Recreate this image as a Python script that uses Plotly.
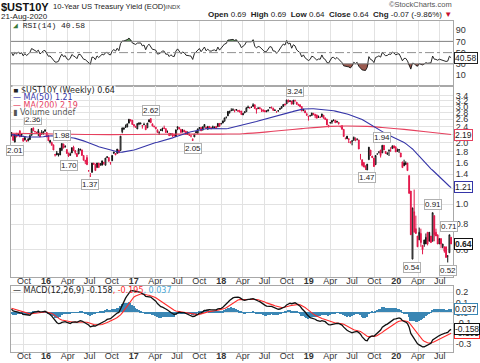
import numpy as np
import pandas as pd
import plotly.graph_objects as go

# ---------------- data (weekly) ----------------
# 52 weekly closes before the visible window (warm-up for MA/RSI/MACD)
hist_close = [2.34, 2.40, 2.35, 2.46, 2.61, 2.59, 2.54, 2.45, 2.31, 2.22, 2.29, 2.35, 2.31, 2.32, 2.31, 2.18,
              2.31, 2.10, 2.17, 2.25,
              2.11, 1.98, 1.83, 1.80, 1.68, 1.95, 2.02, 2.13, 2.00, 2.24, 2.13, 1.93, 1.95, 1.85, 1.96, 1.87,
              1.93, 2.12, 2.15, 2.14, 2.21, 2.12, 2.41, 2.39, 2.26, 2.49, 2.38, 2.40, 2.36, 2.26, 2.20, 2.17]

# (open, high, low, close) per week, first week = week of 2015-08-10
w2015 = [(2.24, 2.24, 2.14, 2.20), (2.20, 2.20, 2.05, 2.05), (2.01, 2.19, 2.01, 2.19), (2.22, 2.22, 2.13, 2.13),
         (2.19, 2.23, 2.19, 2.20), (2.28, 2.30, 2.13, 2.13), (2.20, 2.20, 2.13, 2.17), (2.10, 2.10, 2.03, 2.03),
         (2.06, 2.12, 2.05, 2.12), (2.05, 2.05, 2.02, 2.03), (2.04, 2.09, 2.03, 2.09), (2.07, 2.19, 2.06, 2.16),
         (2.17, 2.34, 2.17, 2.34), (2.36, 2.36, 2.28, 2.28), (2.27, 2.27, 2.24, 2.26), (2.25, 2.25, 2.22, 2.22),
         (2.21, 2.33, 2.15, 2.28), (2.23, 2.24, 2.13, 2.13), (2.23, 2.30, 2.20, 2.20), (2.20, 2.27, 2.20, 2.26),
         (2.31, 2.31, 2.27, 2.27)]
w2016 = [(2.24, 2.25, 2.13, 2.13), (2.17, 2.17, 2.04, 2.04), (2.01, 2.06, 1.98, 2.05), (2.00, 2.02, 1.94, 1.94),
         (1.95, 1.95, 1.84, 1.84), (1.75, 1.75, 1.71, 1.74), (1.78, 1.82, 1.74, 1.74), (1.75, 1.76, 1.71, 1.76),
         (1.74, 1.88, 1.74, 1.88), (1.83, 1.98, 1.83, 1.98), (1.97, 1.97, 1.88, 1.88), (1.92, 1.94, 1.89, 1.91),
         (1.85, 1.85, 1.77, 1.77), (1.78, 1.78, 1.70, 1.72), (1.73, 1.79, 1.73, 1.76), (1.78, 1.89, 1.78, 1.89),
         (1.90, 1.93, 1.83, 1.83), (1.83, 1.83, 1.75, 1.79), (1.77, 1.77, 1.70, 1.71), (1.76, 1.88, 1.76, 1.85),
         (1.84, 1.87, 1.83, 1.85), (1.84, 1.85, 1.73, 1.73), (1.73, 1.73, 1.64, 1.64), (1.64, 1.64, 1.57, 1.62),
         (1.69, 1.74, 1.56, 1.56), (1.46, 1.46, 1.44, 1.46), (1.37, 1.42, 1.37, 1.37), (1.43, 1.59, 1.43, 1.59),
         (1.59, 1.59, 1.56, 1.57), (1.57, 1.57, 1.46, 1.46), (1.51, 1.59, 1.51, 1.59), (1.59, 1.59, 1.51, 1.51),
         (1.55, 1.58, 1.55, 1.58), (1.55, 1.63, 1.55, 1.63), (1.58, 1.61, 1.56, 1.60), (1.55, 1.68, 1.55, 1.68),
         (1.69, 1.72, 1.69, 1.70), (1.69, 1.69, 1.62, 1.62), (1.59, 1.60, 1.56, 1.60), (1.63, 1.74, 1.63, 1.73),
         (1.77, 1.80, 1.77, 1.80), (1.77, 1.77, 1.74, 1.74), (1.77, 1.86, 1.77, 1.86), (1.84, 1.84, 1.78, 1.78),
         (1.83, 2.15, 1.83, 2.15), (2.26, 2.36, 2.22, 2.36), (2.32, 2.36, 2.32, 2.36), (2.37, 2.45, 2.37, 2.39),
         (2.38, 2.47, 2.38, 2.47), (2.49, 2.60, 2.48, 2.60), (2.59, 2.59, 2.54, 2.55), (2.57, 2.57, 2.45, 2.45)]
w2017 = [(2.45, 2.45, 2.37, 2.42), (2.38, 2.40, 2.36, 2.40), (2.33, 2.48, 2.33, 2.48), (2.46, 2.51, 2.43, 2.49),
         (2.48, 2.49, 2.45, 2.49), (2.42, 2.42, 2.34, 2.41), (2.44, 2.50, 2.44, 2.45), (2.42, 2.42, 2.31, 2.31),
         (2.36, 2.49, 2.36, 2.49), (2.52, 2.60, 2.52, 2.58), (2.62, 2.62, 2.50, 2.50), (2.47, 2.47, 2.40, 2.41),
         (2.38, 2.42, 2.38, 2.40), (2.33, 2.38, 2.33, 2.38), (2.31, 2.31, 2.24, 2.24), (2.25, 2.25, 2.18, 2.25),
         (2.32, 2.32, 2.28, 2.29), (2.33, 2.35, 2.27, 2.35), (2.36, 2.42, 2.34, 2.34), (2.34, 2.34, 2.23, 2.24),
         (2.25, 2.29, 2.25, 2.25), (2.22, 2.22, 2.16, 2.16), (2.19, 2.21, 2.16, 2.21), (2.21, 2.21, 2.13, 2.16),
         (2.19, 2.19, 2.15, 2.15), (2.14, 2.31, 2.14, 2.31), (2.35, 2.39, 2.30, 2.39), (2.37, 2.37, 2.32, 2.33),
         (2.32, 2.32, 2.24, 2.24), (2.25, 2.33, 2.25, 2.29), (2.30, 2.30, 2.24, 2.27), (2.27, 2.27, 2.19, 2.19),
         (2.22, 2.27, 2.19, 2.19), (2.18, 2.22, 2.17, 2.17), (2.15, 2.16, 2.12, 2.16), (2.07, 2.10, 2.05, 2.05),
         (2.13, 2.20, 2.13, 2.20), (2.23, 2.28, 2.23, 2.26), (2.22, 2.34, 2.22, 2.33), (2.34, 2.37, 2.32, 2.37),
         (2.37, 2.37, 2.28, 2.28), (2.30, 2.39, 2.30, 2.39), (2.38, 2.46, 2.38, 2.45), (2.38, 2.38, 2.34, 2.34),
         (2.32, 2.40, 2.32, 2.40), (2.40, 2.40, 2.33, 2.35), (2.37, 2.37, 2.32, 2.34), (2.39, 2.42, 2.37, 2.37),
         (2.37, 2.38, 2.35, 2.38), (2.40, 2.40, 2.35, 2.35), (2.39, 2.49, 2.39, 2.48), (2.48, 2.48, 2.40, 2.40)]
w2018 = [(2.46, 2.48, 2.46, 2.48), (2.49, 2.56, 2.49, 2.55), (2.54, 2.64, 2.54, 2.64), (2.66, 2.66, 2.62, 2.66),
         (2.70, 2.85, 2.70, 2.84), (2.80, 2.85, 2.77, 2.85), (2.86, 2.94, 2.86, 2.87), (2.89, 2.94, 2.87, 2.88),
         (2.86, 2.90, 2.81, 2.86), (2.88, 2.90, 2.86, 2.90), (2.87, 2.87, 2.82, 2.85), (2.85, 2.89, 2.82, 2.82),
         (2.85, 2.85, 2.74, 2.74), (2.73, 2.79, 2.73, 2.77), (2.79, 2.83, 2.79, 2.83), (2.83, 2.96, 2.83, 2.96),
         (2.98, 3.03, 2.96, 2.96), (2.96, 2.98, 2.94, 2.95), (2.97, 3.00, 2.97, 2.97), (3.00, 3.11, 3.00, 3.06),
         (3.06, 3.06, 2.93, 2.93), (2.93, 2.93, 2.77, 2.89), (2.93, 2.98, 2.93, 2.94), (2.96, 2.98, 2.91, 2.93),
         (2.92, 2.92, 2.82, 2.90), (2.89, 2.89, 2.82, 2.85), (2.87, 2.87, 2.82, 2.82), (2.86, 2.86, 2.83, 2.83),
         (2.85, 2.89, 2.85, 2.89), (2.96, 2.98, 2.94, 2.96), (2.96, 3.00, 2.95, 2.95), (2.94, 2.96, 2.87, 2.87),
         (2.89, 2.89, 2.86, 2.87), (2.82, 2.84, 2.82, 2.82), (2.85, 2.88, 2.83, 2.86), (2.90, 2.94, 2.90, 2.94),
         (2.94, 3.00, 2.94, 3.00), (3.00, 3.08, 3.00, 3.07), (3.08, 3.10, 3.05, 3.05), (3.09, 3.23, 3.09, 3.23),
         (3.23, 3.23, 3.14, 3.16), (3.17, 3.20, 3.17, 3.20), (3.19, 3.19, 3.08, 3.08), (3.08, 3.22, 3.08, 3.22),
         (3.20, 3.24, 3.19, 3.19), (3.15, 3.15, 3.06, 3.08), (3.08, 3.08, 3.04, 3.04), (3.06, 3.06, 2.99, 2.99),
         (3.00, 3.00, 2.85, 2.85), (2.86, 2.91, 2.86, 2.91), (2.86, 2.86, 2.79, 2.79), (2.75, 2.80, 2.72, 2.72)]
w2019 = [(2.69, 2.69, 2.56, 2.67), (2.70, 2.73, 2.70, 2.70), (2.71, 2.79, 2.71, 2.79), (2.78, 2.78, 2.72, 2.76),
         (2.75, 2.75, 2.63, 2.70), (2.73, 2.73, 2.63, 2.63), (2.66, 2.71, 2.66, 2.66), (2.65, 2.69, 2.65, 2.65),
         (2.67, 2.76, 2.67, 2.76), (2.72, 2.72, 2.63, 2.63), (2.64, 2.64, 2.59, 2.59), (2.60, 2.61, 2.44, 2.44),
         (2.43, 2.43, 2.37, 2.41), (2.49, 2.52, 2.49, 2.50), (2.52, 2.56, 2.47, 2.56), (2.57, 2.60, 2.56, 2.56),
         (2.57, 2.57, 2.50, 2.50), (2.52, 2.54, 2.50, 2.54), (2.51, 2.51, 2.45, 2.47), (2.40, 2.40, 2.38, 2.39),
         (2.42, 2.42, 2.32, 2.32), (2.32, 2.32, 2.14, 2.14), (2.09, 2.12, 2.08, 2.09), (2.15, 2.15, 2.08, 2.09),
         (2.09, 2.09, 1.99, 2.07), (2.02, 2.02, 1.98, 2.00), (2.03, 2.04, 1.94, 2.04), (2.05, 2.14, 2.05, 2.12),
         (2.09, 2.12, 2.03, 2.05), (2.08, 2.08, 2.05, 2.08), (2.06, 2.06, 1.86, 1.86), (1.75, 1.75, 1.65, 1.75),
         (1.65, 1.65, 1.53, 1.55), (1.60, 1.60, 1.52, 1.52), (1.54, 1.54, 1.47, 1.50), (1.47, 1.57, 1.47, 1.57),
         (1.65, 1.90, 1.65, 1.90), (1.84, 1.84, 1.72, 1.74), (1.72, 1.72, 1.68, 1.69), (1.68, 1.68, 1.52, 1.53),
         (1.56, 1.73, 1.56, 1.73), (1.76, 1.76, 1.75, 1.76), (1.80, 1.80, 1.77, 1.80), (1.84, 1.84, 1.69, 1.73),
         (1.78, 1.94, 1.78, 1.94), (1.94, 1.94, 1.84, 1.84), (1.81, 1.81, 1.77, 1.77), (1.76, 1.78, 1.74, 1.78),
         (1.83, 1.84, 1.72, 1.84), (1.82, 1.90, 1.82, 1.82), (1.87, 1.94, 1.87, 1.92), (1.93, 1.93, 1.88, 1.88)]
w2020 = [(1.90, 1.92, 1.80, 1.80), (1.81, 1.87, 1.81, 1.83), (1.85, 1.85, 1.78, 1.84), (1.78, 1.78, 1.70, 1.70),
         (1.61, 1.61, 1.51, 1.51), (1.54, 1.65, 1.54, 1.59), (1.56, 1.62, 1.56, 1.59), (1.59, 1.59, 1.46, 1.46),
         (1.38, 1.38, 1.13, 1.13), (1.16, 1.16, 0.71, 0.71), (0.54, 0.96, 0.54, 0.96), (0.73, 1.18, 0.73, 0.92),
         (0.76, 0.88, 0.72, 0.72), (0.70, 0.70, 0.62, 0.62), (0.67, 0.77, 0.67, 0.73), (0.72, 0.76, 0.62, 0.65),
         (0.63, 0.63, 0.57, 0.60), (0.67, 0.67, 0.62, 0.64), (0.64, 0.72, 0.64, 0.69), (0.73, 0.73, 0.63, 0.64),
         (0.73, 0.73, 0.66, 0.66), (0.70, 0.70, 0.65, 0.65), (0.66, 0.91, 0.66, 0.91), (0.88, 0.88, 0.66, 0.71),
         (0.73, 0.76, 0.70, 0.70), (0.71, 0.71, 0.64, 0.64), (0.64, 0.68, 0.64, 0.68), (0.68, 0.68, 0.61, 0.64),
         (0.62, 0.64, 0.61, 0.64), (0.62, 0.62, 0.58, 0.59), (0.62, 0.62, 0.55, 0.55), (0.56, 0.56, 0.52, 0.56),
         (0.58, 0.71, 0.58, 0.71), (0.69, 0.69, 0.64, 0.64)]

# MA(200) (sparse points)
ma200_dates = ['2015-08-10', '2016-01-04', '2016-07-04', '2017-01-02', '2017-07-03', '2018-01-01',
               '2018-04-02', '2018-08-06', '2018-12-03', '2019-04-01', '2019-06-03', '2019-09-02',
               '2019-11-04', '2020-02-03', '2020-05-04', '2020-08-17']
ma200_vals = [2.22, 2.21, 2.19, 2.19, 2.20, 2.20, 2.21, 2.27, 2.34, 2.40, 2.41, 2.40, 2.37, 2.32, 2.26, 2.19]

# last values shown in legends / axis boxes
close_last, ma50_last, ma200_last = 0.64, 1.21, 2.19
rsi_last = 40.58
macd_last, signal_last, hist_last = -0.158, -0.195, 0.037

# swing labels: (week, value, above?)
swing_labels = [('2015-08-24', 2.01, False), ('2015-11-09', 2.36, True), ('2016-03-07', 1.98, True),
                ('2016-04-04', 1.70, False), ('2016-07-04', 1.37, False), ('2017-03-13', 2.62, True),
                ('2017-09-04', 2.05, False), ('2018-11-05', 3.24, True), ('2019-09-02', 1.47, False),
                ('2019-11-04', 1.94, True), ('2020-03-09', 0.54, False), ('2020-06-01', 0.91, True),
                ('2020-08-10', 0.71, True), ('2020-08-03', 0.52, False)]

quarter_ticks = ['2015-10-01', '2016-01-01', '2016-04-01', '2016-07-01', '2016-10-01', '2017-01-01',
                 '2017-04-01', '2017-07-01', '2017-10-01', '2018-01-01', '2018-04-01', '2018-07-01',
                 '2018-10-01', '2019-01-01', '2019-04-01', '2019-07-01', '2019-10-01', '2020-01-01',
                 '2020-04-01', '2020-07-01']
quarter_text = ['Oct', '<b>16</b>', 'Apr', 'Jul', 'Oct', '<b>17</b>', 'Apr', 'Jul', 'Oct', '<b>18</b>',
                'Apr', 'Jul', 'Oct', '<b>19</b>', 'Apr', 'Jul', 'Oct', '<b>20</b>', 'Apr', 'Jul']

price_ticks = [0.6, 0.8, 1.0, 1.2, 1.4, 1.6, 1.8, 2.0, 2.2, 2.4, 2.6, 2.8, 3.0, 3.2, 3.4]
price_hidden = [1.2, 2.2]          # covered by the MA boxes in the reference
rsi_ticks = [10, 30, 50, 70, 90]
macd_ticks = [-0.3, -0.2, -0.1, 0.0, 0.1, 0.2]
macd_hidden = [-0.2]

# ---------------- derived series ----------------
rows = w2015 + w2016 + w2017 + w2018 + w2019 + w2020
assert len(rows) == 263, len(rows)
o, h, l, c = map(list, zip(*rows))
dates = pd.date_range('2015-08-10', periods=len(rows), freq='W-MON')
nh = len(hist_close)
allc = pd.Series(hist_close + c, dtype=float)

ma50 = allc.rolling(50).mean().iloc[nh:].values
delta = allc.diff()
gain = delta.clip(lower=0)
loss = -delta.clip(upper=0)
ag = gain.ewm(alpha=1 / 14, adjust=False).mean()
al = loss.ewm(alpha=1 / 14, adjust=False).mean()
rsi = (100 - 100 / (1 + ag / al)).iloc[nh:].values
ema12 = allc.ewm(span=12, adjust=False).mean()
ema26 = allc.ewm(span=26, adjust=False).mean()
macd = ema12 - ema26
sig = macd.ewm(span=9, adjust=False).mean()
mh = (macd - sig).iloc[nh:].values
macd = macd.iloc[nh:].values
sig = sig.iloc[nh:].values

prev = [hist_close[-1]] + c[:-1]
RED = '#e3174a'
BLUE_MA = '#3535a8'
RED_MA = '#e6405e'
HIST = '#3a86b4'

fig = go.Figure()


def candles(mask, color):
    idx = [i for i, m in enumerate(mask) if m]
    return go.Candlestick(
        x=dates[idx], open=[o[i] for i in idx], high=[h[i] for i in idx],
        low=[l[i] for i in idx], close=[c[i] for i in idx], xaxis='x2', yaxis='y2',
        increasing=dict(line=dict(color=color, width=1), fillcolor='white'),
        decreasing=dict(line=dict(color=color, width=1), fillcolor=color),
        whiskerwidth=0, hoverinfo='skip')


fig.add_trace(candles([ci >= pi for ci, pi in zip(c, prev)], '#111111'))
fig.add_trace(candles([ci < pi for ci, pi in zip(c, prev)], RED))
fig.add_trace(go.Scatter(x=pd.to_datetime(ma200_dates), y=ma200_vals, mode='lines', xaxis='x2', yaxis='y2',
                         line=dict(color=RED_MA, width=1.1, shape='spline'), hoverinfo='skip'))
fig.add_trace(go.Scatter(x=dates, y=ma50, mode='lines', xaxis='x2', yaxis='y2',
                         line=dict(color=BLUE_MA, width=1.1), hoverinfo='skip'))

# RSI panel
fig.add_trace(go.Scatter(x=dates, y=[70] * len(dates), mode='lines', line=dict(width=0), xaxis='x', yaxis='y',
                         hoverinfo='skip'))
fig.add_trace(go.Scatter(x=dates, y=np.maximum(rsi, 70), mode='lines', line=dict(width=0), fill='tonexty',
                         fillcolor='#5e8f5a', xaxis='x', yaxis='y', hoverinfo='skip'))
fig.add_trace(go.Scatter(x=dates, y=[30] * len(dates), mode='lines', line=dict(width=0), xaxis='x', yaxis='y',
                         hoverinfo='skip'))
fig.add_trace(go.Scatter(x=dates, y=np.minimum(rsi, 30), mode='lines', line=dict(width=0), fill='tonexty',
                         fillcolor='#9a5a50', xaxis='x', yaxis='y', hoverinfo='skip'))
fig.add_trace(go.Scatter(x=dates, y=rsi, mode='lines', line=dict(color='#111', width=0.9), xaxis='x', yaxis='y',
                         hoverinfo='skip'))

# MACD panel
fig.add_trace(go.Bar(x=dates, y=mh, marker=dict(color=HIST, line=dict(width=0)), xaxis='x3', yaxis='y3',
                     hoverinfo='skip'))
fig.add_trace(go.Scatter(x=dates, y=sig, mode='lines', line=dict(color='#ff2a2a', width=1.1), xaxis='x3',
                         yaxis='y3', hoverinfo='skip'))
fig.add_trace(go.Scatter(x=dates, y=macd, mode='lines', line=dict(color='#111', width=1.3), xaxis='x3',
                         yaxis='y3', hoverinfo='skip'))

GRID = '#e2e2e2'
LINE = '#a8a8a8'
FONT = 'Liberation Sans, Arial, sans-serif'
xcommon = dict(type='date', range=['2015-08-08', '2020-08-25'], tickvals=quarter_ticks, ticktext=quarter_text,
               showgrid=True, gridcolor=GRID, gridwidth=1, showline=True, mirror=True, linecolor=LINE,
               linewidth=1, ticks='', zeroline=False, automargin=False, ticklabelstandoff=-5,
               tickfont=dict(size=9, color='#333', family=FONT))
ycommon = dict(side='right', showline=True, mirror=True, linecolor=LINE, linewidth=1, ticks='', zeroline=False,
               automargin=False, tickfont=dict(size=9, color='#333', family=FONT), gridcolor=GRID)

fig.update_layout(
    width=480, height=363, margin=dict(l=11, r=27, t=21, b=11),
    paper_bgcolor='white', plot_bgcolor='white', showlegend=False, bargap=0,
    font=dict(family=FONT, size=9, color='#333'),
    xaxis=dict(xcommon, anchor='y', showticklabels=False),
    xaxis2=dict(xcommon, anchor='y2', matches='x', showticklabels=True, rangeslider=dict(visible=False)),
    xaxis3=dict(xcommon, anchor='y3', matches='x', showticklabels=True),
    yaxis=dict(ycommon, domain=[0.8051, 1.0], range=[-8.6, 106.3], tickvals=rsi_ticks, showgrid=False),
    yaxis2=dict(ycommon, domain=[0.2266, 0.8051], type='log', range=[-0.3549, 0.5795], tickvals=price_ticks,
                ticktext=['' if v in price_hidden else '%.1f' % v for v in price_ticks], showgrid=True),
    yaxis3=dict(ycommon, domain=[0.0, 0.1979], range=[-0.377, 0.256], tickvals=macd_ticks,
                ticktext=['' if v in macd_hidden else '%.1f' % v for v in macd_ticks], showgrid=True),
)

shapes = [
    dict(type='line', xref='x domain', x0=0, x1=1, yref='y', y0=70, y1=70, line=dict(color='#808080', width=1)),
    dict(type='line', xref='x domain', x0=0, x1=1, yref='y', y0=30, y1=30, line=dict(color='#808080', width=1)),
    dict(type='line', xref='x domain', x0=0, x1=1, yref='y', y0=50, y1=50,
         line=dict(color='#909090', width=1, dash='dashdot')),
]
fig.update_layout(shapes=shapes)

ann = []
# swing labels
for d, v, above in swing_labels:
    ann.append(dict(x=pd.Timestamp(d), y=np.log10(v), xref='x2', yref='y2', text='%.2f' % v, showarrow=False,
                    yshift=8 if above else -8, font=dict(size=8, color='#222', family=FONT),
                    bgcolor='white', bordercolor='#b0b0b0', borderwidth=1, borderpad=0))


def box(yref, y, text, border, bold=False, color='#222'):
    return dict(xref='paper', x=1, xanchor='left', xshift=1, yref=yref, y=y,
                text=('<b>%s</b>' % text) if bold else text, showarrow=False,
                font=dict(size=8.5, color=color, family=FONT), bgcolor='white', bordercolor=border,
                borderwidth=1, borderpad=0)


ann += [
    box('y', rsi_last, '%.2f' % rsi_last, '#222'),
    box('y2', np.log10(ma200_last), '%.2f' % ma200_last, RED_MA),
    box('y2', np.log10(ma50_last), '%.2f' % ma50_last, BLUE_MA),
    box('y2', np.log10(close_last), '%.2f' % close_last, '#111', bold=True),
    box('y3', hist_last, '%.3f' % hist_last, HIST),
    box('y3', signal_last, '%.3f' % signal_last, '#ff2a2a'),
    box('y3', macd_last, '%.3f' % macd_last, '#111'),
]


def px(xp):
    return (xp - 11) / 442.0


def py(yp):
    return (352 - yp) / 331.0


def txt(x, y, text, size=8, color='#222', anchor='left', family=FONT, bg=None):
    d = dict(xref='paper', yref='paper', x=px(x), y=py(y), xanchor=anchor, yanchor='middle', text=text,
             showarrow=False, font=dict(size=size, color=color, family=family), borderpad=0)
    if bg:
        d['bgcolor'] = bg
    return d


LEG = 'DejaVu Sans, Verdana, sans-serif'
WBG = 'rgba(255,255,255,0.9)'
ann += [
    txt(0, 7, '<b>$UST10Y</b>', size=11, color='#111'),
    txt(52, 7, '10-Year US Treasury Yield (EOD)', size=7.6, color='#222'),
    txt(165, 7, 'INDX', size=6, color='#333'),
    txt(0, 16, '21-Aug-2020', size=8, color='#222'),
    txt(453, 5, '©StockCharts.com', size=7.5, color='#555', anchor='right'),
    txt(453, 15, '<b>Open</b> 0.69  <b>High</b> 0.69  <b>Low</b> 0.64  <b>Close</b> 0.64  <b>Chg</b> -0.07 '
                 '(-9.86%) <span style="color:#c8102e">▼</span>', size=8, color='#222', anchor='right'),
    txt(12, 25, '<span style="color:#3a7a3a">◢</span> RSI(14) %.2f' % rsi_last, size=8, color='#222',
        family='Liberation Mono, monospace'),
    txt(12, 90, '▪ $UST10Y (Weekly) %.2f' % close_last, size=8, color='#222', family=LEG, bg=WBG),
    txt(12, 98, '— MA(50) %.2f' % ma50_last, size=8, color=BLUE_MA, family=LEG, bg=WBG),
    txt(12, 105, '— MA(200) %.2f' % ma200_last, size=8, color=RED_MA, family=LEG, bg=WBG),
    txt(12, 112, '▮ Volume undef', size=8, color='#555', family=LEG, bg=WBG),
    txt(12, 290, '— MACD(12,26,9) %.3f<span style="color:#ff2a2a">, %.3f</span>'
                 '<span style="color:#4aa8d8">, %.3f</span>' % (macd_last, signal_last, hist_last),
        size=8, color='#222', family=LEG),
]
fig.update_layout(annotations=ann)

fig.write_html('out.html', config={'displayModeBar': False},
               post_script="document.body.style.margin='0';document.body.style.padding='0';")
